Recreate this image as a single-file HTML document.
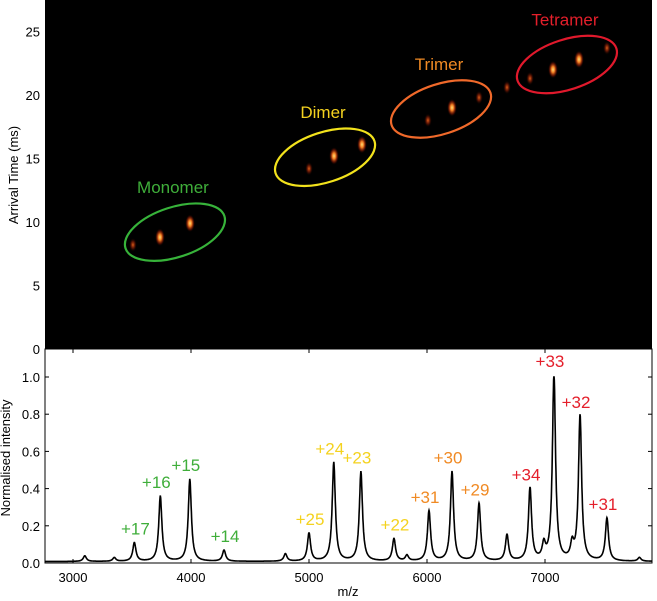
<!DOCTYPE html>
<html><head><meta charset="utf-8"><style>
html,body{margin:0;padding:0;background:#fff;}
svg{display:block;font-family:"Liberation Sans","DejaVu Sans",sans-serif;}
</style></head><body>
<svg id="chart" width="657" height="601" viewBox="0 0 657 601" xmlns="http://www.w3.org/2000/svg">
<defs>
<radialGradient id="blob"><stop offset="0" stop-color="#ffe27a"/><stop offset="0.35" stop-color="#f07a20"/><stop offset="0.7" stop-color="#8a1a05" stop-opacity="0.6"/><stop offset="1" stop-color="#000" stop-opacity="0"/></radialGradient>
<radialGradient id="blobdim"><stop offset="0" stop-color="#e0601a"/><stop offset="0.5" stop-color="#7a1a05" stop-opacity="0.7"/><stop offset="1" stop-color="#000" stop-opacity="0"/></radialGradient>
</defs>
<rect x="45" y="0" width="607" height="349" fill="#000"/>
<g id="heat"></g>
<g id="ellipses"></g>
<rect x="45" y="349" width="607" height="214" fill="#fff" stroke="#000" stroke-width="1"/>
<path id="spectrum" fill="none" stroke="#000" stroke-width="1.6"/>
<g id="axes"></g>
<g id="labels" font-size="17"></g>
<text transform="translate(18,175) rotate(-90)" text-anchor="middle" font-size="13">Arrival Time (ms)</text>
<text transform="translate(10,458) rotate(-90)" text-anchor="middle" font-size="13">Normalised intensity</text>
<text x="348" y="596" text-anchor="middle" font-size="13">m/z</text>
</svg>
<script>
const peakMz = [3520, 3740, 3990, 4280, 4800, 5000, 5210, 5440, 5720, 5830, 6017, 6212, 6441, 6678, 6873, 6990, 7076, 7230, 7297, 7525, 7800, 3100, 3350];
const peakInt = [0.10, 0.35, 0.44, 0.06, 0.04, 0.15, 0.53, 0.48, 0.12, 0.03, 0.27, 0.48, 0.31, 0.14, 0.39, 0.08, 1.0, 0.08, 0.78, 0.23, 0.02, 0.03, 0.02];
const spotMz = [3508, 3737, 3992, 5000, 5212, 5449, 6008, 6212, 6441, 6678, 6873, 7068, 7288, 7525];
const spotTime = [8.2, 8.8, 9.9, 14.2, 15.2, 16.1, 18.0, 19.0, 19.8, 20.6, 21.3, 22.0, 22.8, 23.7];
const spotBright = [0, 1, 1, 0, 1, 1, 0, 1, 0, 0, 0, 1, 1, 0];
const xTicks = [3000, 4000, 5000, 6000, 7000];
const yTicksTop = [0, 5, 10, 15, 20, 25];
const yTicksBot = [0.0, 0.2, 0.4, 0.6, 0.8, 1.0];
const groupNames = ["Monomer", "Dimer", "Trimer", "Tetramer"];
const groupMz = [3864, 5136, 6119, 7186];
const groupTime = [9.2, 15.1, 18.9, 22.4];
const chargeLabels = ["+17","+16","+15","+14","+25","+24","+23","+22","+31","+30","+29","+34","+33","+32","+31"];
const chargeMz = [3520, 3740, 3990, 4280, 5000, 5210, 5440, 5720, 6017, 6212, 6441, 6873, 7076, 7297, 7525];
const chargeInt = [0.10, 0.35, 0.44, 0.06, 0.15, 0.53, 0.48, 0.12, 0.27, 0.48, 0.31, 0.39, 1.0, 0.78, 0.23];
const chargeGroup = [0,0,0,0,1,1,1,1,2,2,2,3,3,3,3];

const colors = ["#3fae3a", "#f4d21f", "#f08a24", "#e41f2b"];
const ellColors = ["#37b33a", "#f2e21c", "#f0692a", "#e0192c"];
const NS = "http://www.w3.org/2000/svg";
const x = m => 73 + (m - 3000) * 0.118;
const yT = t => 349 - t * 12.7;
const yB = v => 563 - v * 186;
function mk(tag, attrs, parent, text){const e=document.createElementNS(NS,tag);for(const k in attrs)e.setAttribute(k,attrs[k]);if(text!==undefined)e.textContent=text;document.getElementById(parent).appendChild(e);return e;}

spotMz.forEach((m,i)=>{
  const e=mk('ellipse',{cx:x(m),cy:yT(spotTime[i]),rx:spotBright[i]?5:4,ry:spotBright[i]?9:7,fill:spotBright[i]?'url(#blob)':'url(#blobdim)'},'heat');
  
  
});
groupNames.forEach((g,i)=>{
  const cx=x(groupMz[i]), cy=yT(groupTime[i]);
  const e=mk('ellipse',{cx:cx,cy:cy,rx:52,ry:25,fill:'none',stroke:ellColors[i],'stroke-width':2.2,transform:`rotate(-18 ${cx} ${cy})`},'ellipses');
  
  
  const t=mk('text',{x:cx-2,y:cy-39,'text-anchor':'middle','font-size':17,fill:colors[i]},'ellipses',g);
  
  
});
let d='';
for(let m=2763;m<=7907;m+=2){
  let v=0.008;
  for(let j=0;j<peakMz.length;j++){const w=(m-peakMz[j])/16;v+=peakInt[j]/(1+w*w);}
  d+=(d?'L':'M')+x(m).toFixed(1)+','+yB(Math.min(v,1.0)).toFixed(1);
}
document.getElementById('spectrum').setAttribute('d',d);
xTicks.forEach(t=>{
  const l=mk('line',{x1:x(t),x2:x(t),y1:563,y2:559,stroke:'#000'},'axes');
   
  const l2=mk('line',{x1:x(t),x2:x(t),y1:349,y2:353,stroke:'#000'},'axes');
   
  const tx=mk('text',{x:x(t),y:582,'text-anchor':'middle','font-size':13},'axes',t);
   
});
yTicksTop.forEach(t=>{
  const tx=mk('text',{x:40,y:yT(t)+5,'text-anchor':'end','font-size':13},'axes',t);
   
});
yTicksBot.forEach(t=>{
  const l=mk('line',{x1:45,x2:49,y1:yB(t),y2:yB(t),stroke:'#000'},'axes');
   
  const l2=mk('line',{x1:648,x2:652,y1:yB(t),y2:yB(t),stroke:'#000'},'axes');
   
  const tx=mk('text',{x:40,y:yB(t)+5,'text-anchor':'end','font-size':13},'axes',t.toFixed(1));
   
});
chargeLabels.forEach((c,i)=>{
  const t=mk('text',{x:x(chargeMz[i])-(chargeInt[i]<0.2?-1:4),y:yB(chargeInt[i])-10,'text-anchor':'middle',fill:colors[chargeGroup[i]]},'labels',c);
  
  
});
</script>
</body></html>
